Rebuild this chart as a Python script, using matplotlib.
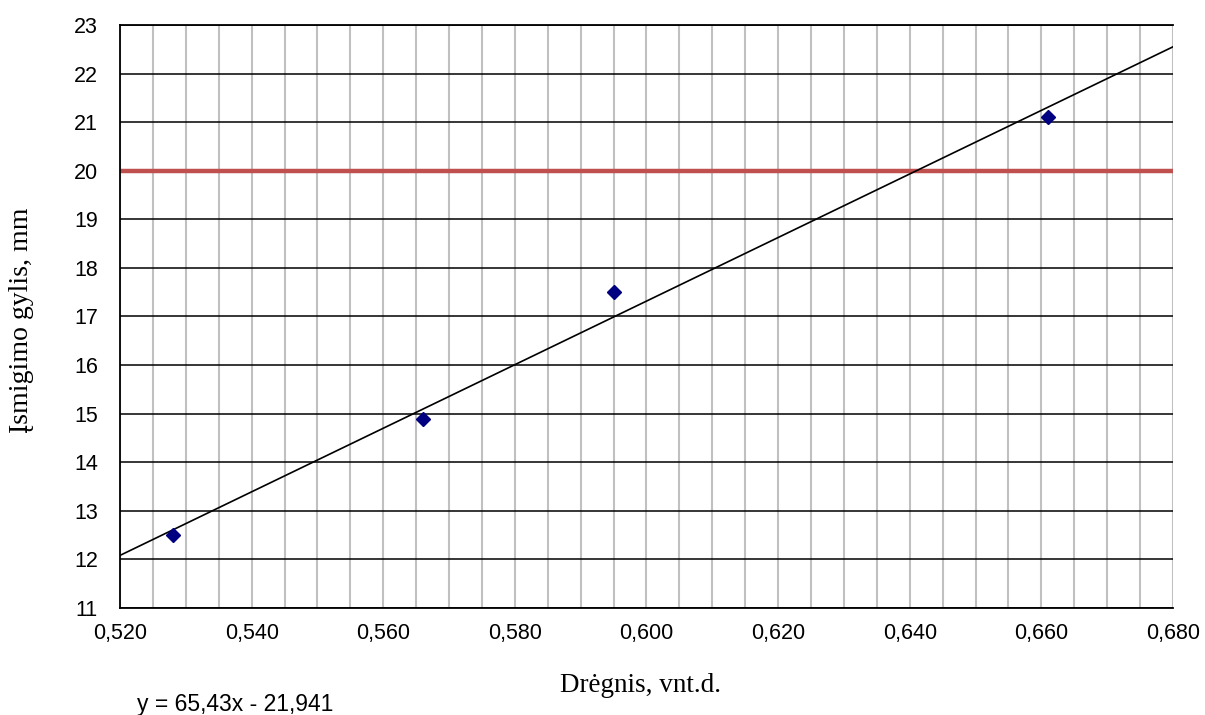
import numpy as np
import matplotlib
matplotlib.use("Agg")
import matplotlib.pyplot as plt
from matplotlib.ticker import MultipleLocator, FuncFormatter

# Data
moisture = [0.528, 0.566, 0.595, 0.661]
depth = [12.5, 14.9, 17.5, 21.1]
slope = 65.43
intercept = -21.941
limit_level = 20
x_range = [0.520, 0.680]
y_range = [11, 23]
equation_text = "y = 65,43x - 21,941"
x_label = "Drėgnis, vnt.d."
y_label = "Įsmigimo gylis, mm"

fig = plt.figure(figsize=(12.05, 7.15), dpi=100)
ax = fig.add_axes([120/1205, 1-608/715, (1173-120)/1205, (608-25)/715])

ax.set_xlim(*x_range)
ax.set_ylim(*y_range)

# grid
ax.xaxis.set_major_locator(MultipleLocator(0.02))
ax.xaxis.set_minor_locator(MultipleLocator(0.005))
ax.yaxis.set_major_locator(MultipleLocator(1))
ax.grid(which='minor', axis='x', color='#C0C0C0', lw=1.5, zorder=0)
ax.grid(which='major', axis='x', color='#C0C0C0', lw=1.5, zorder=0)
ax.grid(which='major', axis='y', color='black', lw=1.1, zorder=1)
ax.set_axisbelow(True)

# reference level
ax.axhline(limit_level, color='#C0504D', lw=3.2, zorder=2)

# trend line
xl = np.array(x_range)
ax.plot(xl, slope * xl + intercept, color='black', lw=1.2, zorder=3, clip_on=True)

# points
ax.plot(moisture, depth, linestyle='none', marker='D', markersize=7.5,
        color='#000080', markeredgecolor='#000080', zorder=4)

for s in ['left', 'bottom', 'top']:
    ax.spines[s].set_color('black')
    ax.spines[s].set_linewidth(1.3)
ax.spines['right'].set_visible(False)

ax.tick_params(which='both', length=0)
ax.tick_params(axis='x', pad=11)
ax.tick_params(axis='y', pad=16)
ax.xaxis.set_major_formatter(FuncFormatter(lambda v, p: f"{v:.3f}".replace('.', ',')))
ax.yaxis.set_major_formatter(FuncFormatter(lambda v, p: f"{v:.0f}"))
for lab in ax.get_xticklabels() + ax.get_yticklabels():
    lab.set_fontfamily('Liberation Sans')
    lab.set_fontsize(15.5)

fig.text(640/1205, 1-685/715, x_label, ha='center', va='center',
         fontfamily='Liberation Serif', fontsize=19.5)
fig.text(22/1205, 1-320/715, y_label, ha='center', va='center', rotation=90,
         fontfamily='Liberation Serif', fontsize=20)
fig.text(137/1205, 1-705/715, equation_text, ha='left', va='center',
         fontfamily='Liberation Sans', fontsize=16.5)

fig.savefig("out.png", dpi=100)
